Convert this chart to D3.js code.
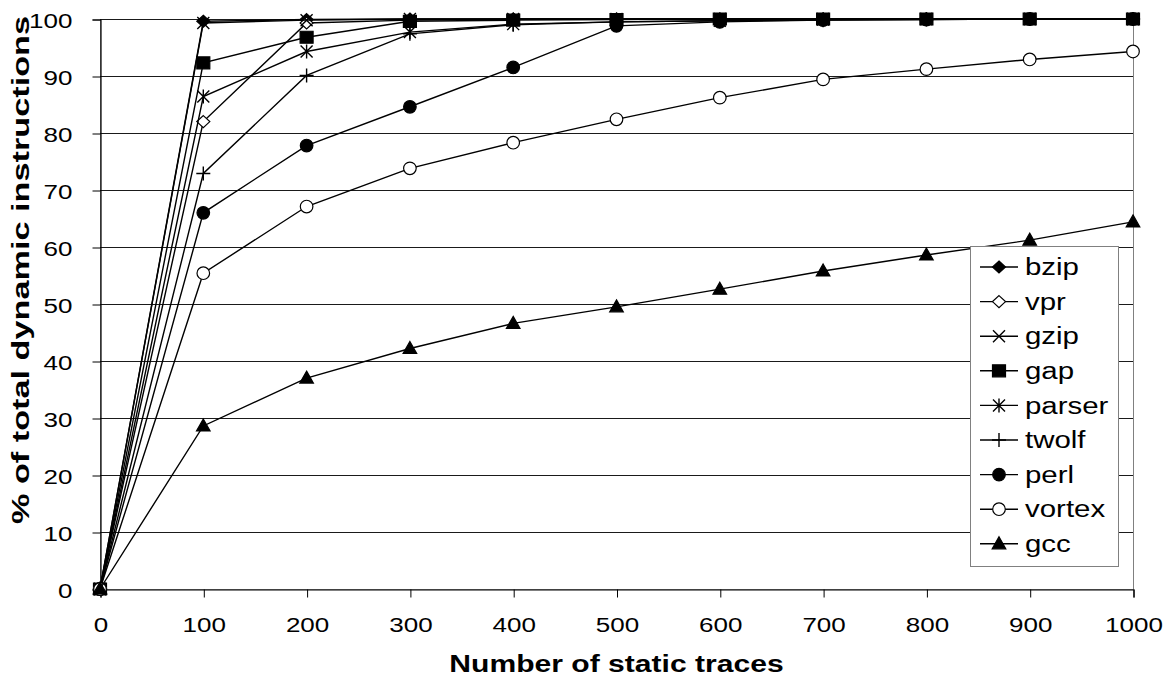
<!DOCTYPE html>
<html>
<head>
<meta charset="utf-8">
<script src="https://cdn.jsdelivr.net/npm/d3@7/dist/d3.min.js"></script>
<style>
  body { margin: 0; background: #fff; }
  svg { display: block; font-family: Arial, "Liberation Sans", sans-serif; }
</style>
</head>
<body>
<div id="root"></div>
<script>
// x positions (number of static traces)
const traces = [0, 100, 200, 300, 400, 500, 600, 700, 800, 900, 1000];
const yTicks = [0, 10, 20, 30, 40, 50, 60, 70, 80, 90, 100];

// % of total dynamic instructions
const bzip   = [0, 99.6, 99.9, 100, 100, 100, 100, 100, 100, 100, 100];
const vpr    = [0, 82.0, 99.3, 99.8, 100, 100, 100, 100, 100, 100, 100];
const gzip   = [0, 99.3, 99.8, 100, 100, 100, 100, 100, 100, 100, 100];
const gap    = [0, 92.3, 96.8, 99.6, 99.8, 99.9, 100, 100, 100, 100, 100];
const parser = [0, 86.4, 94.3, 97.7, 99.1, 99.5, 99.7, 99.9, 100, 100, 100];
const twolf  = [0, 72.9, 90.1, 97.4, 99.0, 99.5, 99.7, 99.8, 99.9, 100, 100];
const perl   = [0, 66.0, 77.8, 84.6, 91.5, 98.8, 99.5, 99.8, 99.9, 100, 100];
const vortex = [0, 55.4, 67.1, 73.8, 78.3, 82.4, 86.2, 89.4, 91.2, 92.9, 94.3];
const gcc    = [0, 28.6, 37.0, 42.2, 46.6, 49.5, 52.6, 55.8, 58.6, 61.2, 64.4];

const seriesNames = ["bzip", "vpr", "gzip", "gap", "parser", "twolf", "perl", "vortex", "gcc"];
const seriesValues = [bzip, vpr, gzip, gap, parser, twolf, perl, vortex, gcc];
const seriesMarkers = ["diamond", "diamondOpen", "cross", "square", "asterisk", "plus", "circle", "circleOpen", "triangle"];

const width = 1172, height = 683;
const stretch = 1.28; // text in the picture is widened along its reading direction

const svg = d3.select('#root').append('svg')
              .attr('width', width)
              .attr('height', height);

const x = d3.scaleLinear().domain([0, 1000]).range([100, 1133]);
const y = d3.scaleLinear().domain([0, 100]).range([589, 19]);

// plot area border
svg.append('rect')
   .attr('x', x(0) + 0.5)
   .attr('y', y(100) + 0.5)
   .attr('width', x(1000) - x(0))
   .attr('height', y(0) - y(100))
   .attr('fill', '#fff')
   .attr('stroke', '#808080');

// horizontal gridlines
svg.append('g')
   .selectAll('line')
   .data(yTicks.filter(d => d > 0))
   .enter().append('line')
   .attr('x1', x(0))
   .attr('x2', x(1000))
   .attr('y1', d => Math.round(y(d)) + 0.5)
   .attr('y2', d => Math.round(y(d)) + 0.5)
   .attr('stroke', '#1a1a1a')
   .attr('stroke-width', 1);

// axes
const yAxis = svg.append('g')
   .attr('transform', 'translate(' + (x(0) + 0.5) + ',0.5)')
   .call(d3.axisLeft(y).tickValues(yTicks).tickSize(8).tickPadding(20).tickFormat(d3.format('d')));

const xAxis = svg.append('g')
   .attr('transform', 'translate(0.5,' + (Math.round(y(0)) + 0.5) + ')')
   .call(d3.axisBottom(x).tickValues(traces).tickSize(8).tickPadding(20).tickFormat(d3.format('d')));

[yAxis, xAxis].forEach(function (ax) {
  ax.select('.domain').attr('stroke', '#000').attr('stroke-width', 1.2);
  ax.selectAll('.tick line').attr('stroke', '#000');
  ax.selectAll('text')
    .attr('font-size', 21)
    .attr('fill', '#000')
    .attr('font-family', 'Arial, "Liberation Sans", sans-serif');
});

// widen tick labels, keeping them anchored
const tickStretch = 1.24;
yAxis.selectAll('text')
     .attr('x', -28 / tickStretch)
     .attr('dy', '0.36em')
     .attr('transform', 'scale(' + tickStretch + ',1)');
xAxis.selectAll('text')
     .attr('transform', 'scale(' + tickStretch + ',1)');

// marker shapes
function markerPath(type) {
  switch (type) {
    case 'diamond':
    case 'diamondOpen':
      return 'M0,-6L6.5,0L0,6L-6.5,0Z';
    case 'square':
      return 'M-6.5,-6H6.5V6H-6.5Z';
    case 'triangle':
      return 'M0,-7L6.8,5L-6.8,5Z';
    case 'cross':
      return 'M-6,-6L6,6M-6,6L6,-6';
    case 'asterisk':
      return 'M-6,-6L6,6M-6,6L6,-6M0,-7V7';
    case 'plus':
      return 'M-7,0H7M0,-7V7';
    case 'circle':
    case 'circleOpen':
      return 'M-6.3,0A6.3,6.3 0 1,0 6.3,0A6.3,6.3 0 1,0 -6.3,0Z';
  }
}

function drawMarker(sel, type) {
  const open = type === 'diamondOpen' || type === 'circleOpen';
  const stroked = type === 'cross' || type === 'asterisk' || type === 'plus';
  sel.append('path')
     .attr('d', markerPath(type))
     .attr('fill', stroked ? 'none' : (open ? '#fff' : '#000'))
     .attr('stroke', '#000')
     .attr('stroke-width', stroked ? 1.4 : 1.2);
}

const line = d3.line()
               .x((d, i) => x(traces[i]))
               .y(d => y(d));

// series, drawn in order like the original
seriesValues.forEach(function (vals, s) {
  const g = svg.append('g').attr('class', 'series');
  g.append('path')
   .attr('d', line(vals))
   .attr('fill', 'none')
   .attr('stroke', '#000')
   .attr('stroke-width', 1.4);

  g.selectAll('.pt')
   .data(vals)
   .enter().append('g')
   .attr('class', 'pt')
   .attr('transform', (d, i) => 'translate(' + x(traces[i]) + ',' + y(d) + ')')
   .each(function () { drawMarker(d3.select(this), seriesMarkers[s]); });
});

// legend
const legend = svg.append('g').attr('class', 'legend');
legend.append('rect')
      .attr('x', 970.5)
      .attr('y', 246.5)
      .attr('width', 148)
      .attr('height', 320)
      .attr('fill', '#fff')
      .attr('stroke', '#808080');

const item = legend.selectAll('.item')
      .data(seriesNames)
      .enter().append('g')
      .attr('class', 'item')
      .attr('transform', (d, i) => 'translate(999,' + (267 + i * 34.6) + ')');

item.append('line')
    .attr('x1', -19)
    .attr('x2', 19)
    .attr('stroke', '#000')
    .attr('stroke-width', 1.4);

item.each(function (d, i) { drawMarker(d3.select(this), seriesMarkers[i]); });

item.append('text')
    .text(d => d)
    .attr('transform', 'translate(26,0) scale(' + stretch + ',1)')
    .attr('dy', '0.36em')
    .attr('font-size', 23)
    .attr('fill', '#000');

// axis titles
svg.append('text')
   .text('Number of static traces')
   .attr('transform', 'translate(' + ((x(0) + x(1000)) / 2) + ',672) scale(' + stretch + ',1)')
   .attr('text-anchor', 'middle')
   .attr('font-weight', 'bold')
   .attr('font-size', 23.5);

// the vertical title runs longer than the horizontal one
svg.append('text')
   .text('% of total dynamic instructions')
   .attr('transform', 'translate(29,270) rotate(-90) scale(1.49,1)')
   .attr('text-anchor', 'middle')
   .attr('font-weight', 'bold')
   .attr('font-size', 23);
</script>
</body>
</html>
